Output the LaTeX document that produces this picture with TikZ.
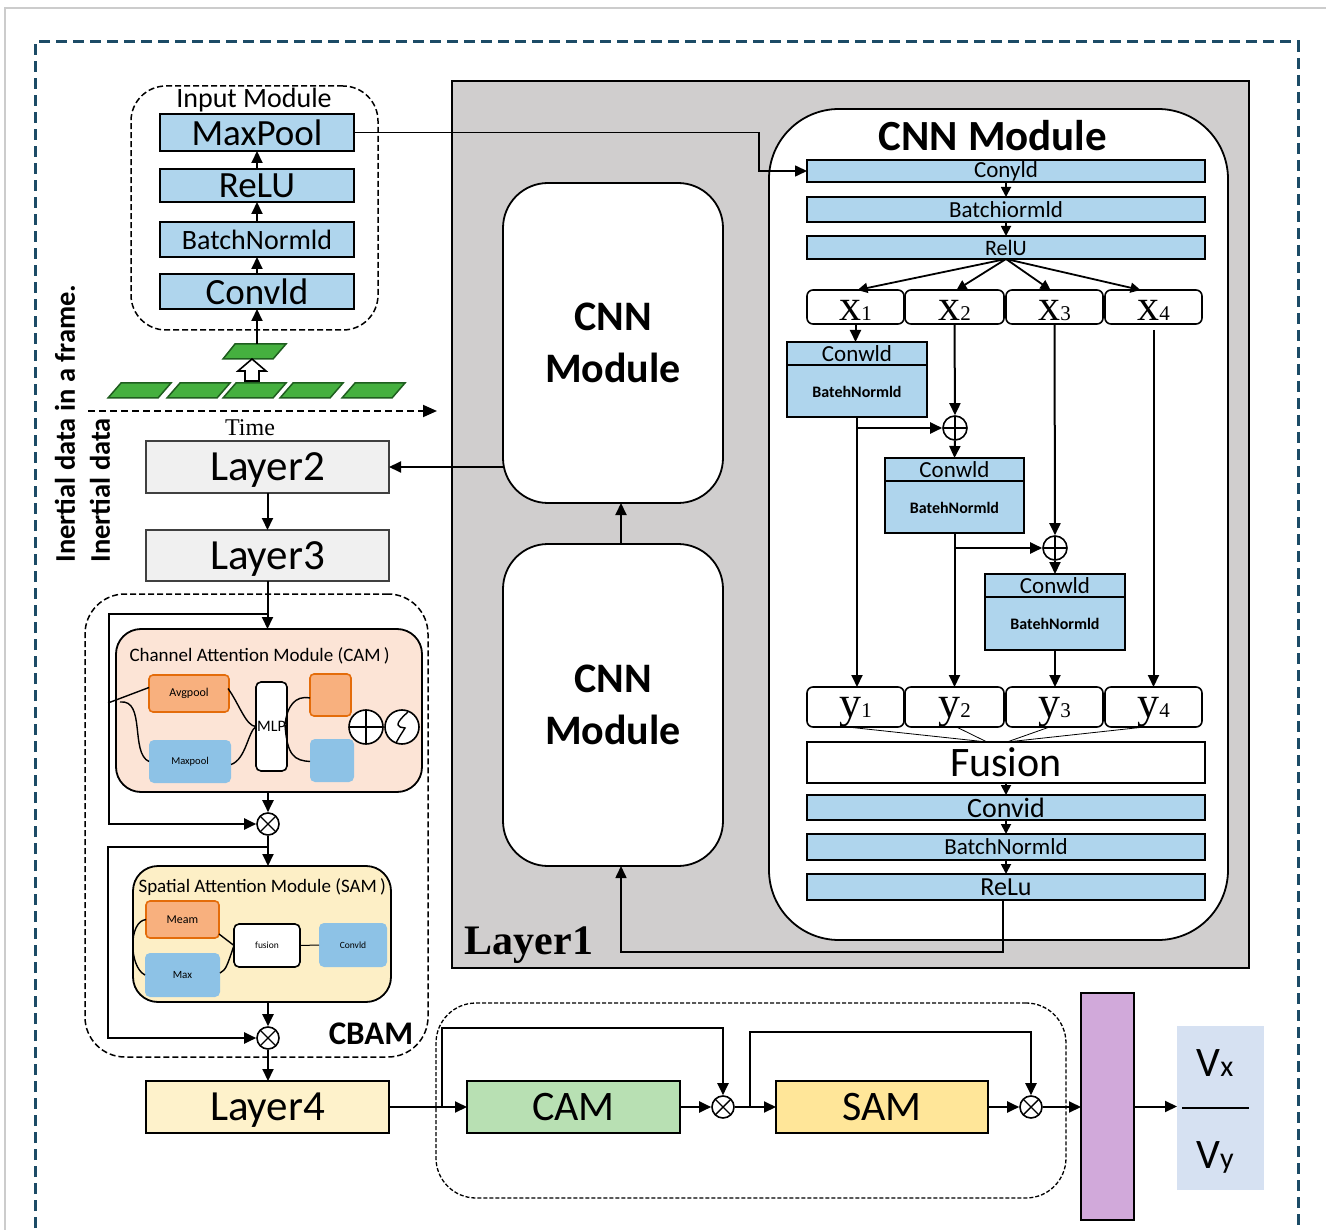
\documentclass[tikz,border=0pt]{standalone}
\usepackage{fontspec}
\setmainfont{Carlito}
\newfontfamily\tms{Liberation Serif}
\usetikzlibrary{arrows.meta,calc}

\definecolor{blueA}{HTML}{AFD5ED}
\definecolor{grayL1}{HTML}{D0CECE}
\definecolor{lgray}{HTML}{F0F0F0}
\definecolor{peach}{HTML}{FCE4D6}
\definecolor{orangeF}{HTML}{F8B07E}
\definecolor{orangeD}{HTML}{E46C0A}
\definecolor{poolblue}{HTML}{8DC2E6}
\definecolor{samyel}{HTML}{FDEFC6}
\definecolor{lfouryel}{HTML}{FEF2CB}
\definecolor{camgreen}{HTML}{B8E0B3}
\definecolor{samgold}{HTML}{FFE699}
\definecolor{purp}{HTML}{D1A9DA}
\definecolor{outblue}{HTML}{D6E1F2}
\definecolor{grn}{HTML}{45B03F}
\definecolor{grnD}{HTML}{1F5E1F}
\definecolor{frameteal}{HTML}{1C4B66}

\newcommand\fsz[1]{\fontsize{#1}{#1}\selectfont}
% box by its corners: name, style, x1, y1, x2, y2, text
\newcommand\mkbox[7]{\node[inner sep=0pt,outer sep=0pt,#2,
  minimum width={(#5-#3)*1pt},minimum height={(#6-#4)*1pt}]
  (#1) at ({(#3+#5)/2},{(#4+#6)/2}) {#7};}
\newcommand\sublab[2]{{\tms\fsz{44}#1\fsz{21}#2}}

\tikzset{
  bluebox/.style={draw,fill=blueA,line width=2pt},
  graybox/.style={draw=black!75,fill=lgray,line width=1.8pt,text depth=0pt},
  whitebox/.style={draw,fill=white,line width=1.8pt},
  smallbox/.style={draw,fill=white,rounded corners=6pt,line width=1.6pt,text depth=0pt},
  cnnsmall/.style={draw,fill=white,rounded corners=45pt,line width=1.8pt,
    align=center,font=\fontsize{42}{52}\selectfont\bfseries},
  dashround/.style={draw,dash pattern=on 6pt off 3pt,line width=1.5pt,rounded corners=40pt},
  orangebox/.style={draw=orangeD,fill=orangeF,rounded corners=4pt,line width=1.6pt},
  bluepool/.style={fill=poolblue,rounded corners=5pt},
  arr/.style={line width=2pt,-{Triangle[length=12pt,width=11pt]}},
  arrs/.style={line width=1.8pt,-{Triangle[length=10pt,width=10pt]}},
  thinl/.style={line width=1.4pt},
  oplus/.style={circle,draw,fill=white,minimum size=#1,inner sep=0pt,line width=1.6pt,
    path picture={\draw[line width=1.4pt]
      (path picture bounding box.north) -- (path picture bounding box.south)
      (path picture bounding box.west) -- (path picture bounding box.east);}},
  oplus/.default=24pt,
  otimes/.style={circle,draw,fill=white,minimum size=#1,inner sep=0pt,line width=1.6pt,
    path picture={\draw[line width=1.4pt]
      (path picture bounding box.north west) -- (path picture bounding box.south east)
      (path picture bounding box.north east) -- (path picture bounding box.south west);}},
  otimes/.default=22pt,
  sigm/.style={circle,draw,fill=white,minimum size=34pt,inner sep=0pt,line width=1.6pt,
    path picture={\draw[line width=1.4pt]
      ($(path picture bounding box.center)+(6,-15)$) .. controls ($(path picture bounding box.center)+(-2,-8)$) and ($(path picture bounding box.center)+(-7,-2)$) .. ($(path picture bounding box.center)+(-2,0)$)
      -- ($(path picture bounding box.center)+(3,1)$) .. controls ($(path picture bounding box.center)+(0,6)$) and ($(path picture bounding box.center)+(-3,10)$) .. ($(path picture bounding box.center)+(-6,16)$);}},
}

\begin{document}
\begin{tikzpicture}[x=1pt,y=-1pt]
\useasboundingbox (0,0) rectangle (1326,1230);

% page edge and outer frame
\draw[black!20,line width=1.5pt] (5,1240) -- (5,8) -- (1330,8);
\draw[frameteal,line width=3pt,dash pattern=on 11pt off 6pt] (35,1245) -- (35,42) -- (1298,42) -- (1298,1245);

% ---------- Layer1 ----------
\mkbox{lay1}{draw,fill=grayL1,line width=1.8pt}{452}{81}{1249}{968}{}
\node[anchor=center] (lay1lab) at (529,945) {\tms\bfseries\fsz{42}Layer1};

\mkbox{cnnA}{cnnsmall}{503}{183}{723}{503}{CNN\\Module}
\mkbox{cnnB}{cnnsmall}{503}{544}{723}{866}{CNN\\Module}
\draw[arr] ($(cnnB.north)+(8,0)$) -- ($(cnnA.south)+(8,0)$);

\mkbox{cnnbig}{draw,fill=white,rounded corners=70pt,line width=1.8pt}{769}{109}{1228}{940}{}
\node (cnnt) at (993,136) {\fsz{43}\bfseries CNN Module};

\mkbox{c1}{bluebox}{807}{160}{1205}{182}{\fsz{23}Conyld}
\mkbox{c2}{bluebox}{807}{197}{1205}{222}{\fsz{23}Batchiormld}
\mkbox{c3}{bluebox}{807}{236}{1205}{259}{\fsz{22}RelU}
\draw[arrs] (c1.south) -- (c2.north);
\draw[arrs] (c2.south) -- (c3.north);

\mkbox{x1}{smallbox,text height=28pt}{807}{290}{904}{324}{\sublab{x}{1}}
\mkbox{x2}{smallbox,text height=28pt}{905}{290}{1004}{324}{\sublab{x}{2}}
\mkbox{x3}{smallbox,text height=28pt}{1006}{290}{1103}{324}{\sublab{x}{3}}
\mkbox{x4}{smallbox,text height=28pt}{1105}{290}{1202}{324}{\sublab{x}{4}}
\draw[arrs] (c3.south) -- ($(x1.north)+(2,0)$);
\draw[arrs] (c3.south) -- ($(x2.north)+(2,0)$);
\draw[arrs] (c3.south) -- ($(x3.north)+(-4,0)$);
\draw[arrs] (c3.south) -- ($(x4.north)+(-13,0)$);

% residual branches
\mkbox{b1}{bluebox}{787}{342}{927}{417}{}
\mkbox{b2}{bluebox}{885}{458}{1024}{533}{}
\mkbox{b3}{bluebox}{985}{574}{1125}{650}{}
\foreach \b in {b1,b2,b3}{
  \draw[line width=1.8pt] ($(\b.north west)+(0,23)$) -- ($(\b.north east)+(0,23)$);
  \node (\b t) at ($(\b.north)+(0,12)$) {\fsz{23}Conwld};
  \node (\b b) at ($(\b.center)+(0,12)$) {\fsz{16}\bfseries BatehNormld};
}
\node[oplus] (p1) at (955,428) {};
\node[oplus] (p2) at (1055,548) {};

\mkbox{y1}{smallbox,text height=20pt}{807}{687}{904}{727}{\sublab{y}{1}}
\mkbox{y2}{smallbox,text height=20pt}{905}{687}{1004}{727}{\sublab{y}{2}}
\mkbox{y3}{smallbox,text height=20pt}{1006}{687}{1103}{727}{\sublab{y}{3}}
\mkbox{y4}{smallbox,text height=20pt}{1105}{687}{1202}{727}{\sublab{y}{4}}

\draw[arr] (x1.south) -- (x1.south |- b1.north);
\draw[arr] (x2.south) -- (p1.north);
\draw[arr] (b1.south) -- (b1.south |- y1.north);
\draw[arr] (b1.south |- p1.west) -- (p1.west);
\draw[arr] (p1.south) -- (b2.north);
\draw[arr] (b2.south) -- (b2.south |- y2.north);
\draw[arr] (b2.south |- p2.west) -- (p2.west);
\draw[arr] (x3.south) -- (p2.north);
\draw[arr] (p2.south) -- (b3.north);
\draw[arr] (b3.south) -- (b3.south |- y3.north);
\draw[arr] ($(x4.south)+(0,6)$) -- (y4.north);

\mkbox{fu}{whitebox}{807}{742}{1205}{783}{\fsz{42}Fusion}
\mkbox{d1}{bluebox}{807}{795}{1205}{820}{\fsz{28}Convid}
\mkbox{d2}{bluebox}{807}{834}{1205}{860}{\fsz{23}BatchNormld}
\mkbox{d3}{bluebox}{807}{874}{1205}{900}{\fsz{26}ReLu}
\draw[line width=0.8pt] ($(y1.south)+(-8,0)$) -- ($(fu.north)+(-19,0)$);
\draw[line width=0.8pt] ($(y2.south)+(2,0)$) -- ($(fu.north)+(-19,0)$);
\draw[line width=0.8pt] ($(y3.south)+(-5,0)$) -- ($(fu.north)+(1,0)$);
\draw[line width=0.8pt] ($(y4.south)+(-9,0)$) -- ($(fu.north)+(1,0)$);
\draw[arrs] (fu.south) -- (d1.north);
\draw[arrs] (d1.south) -- (d2.north);
\draw[arrs] (d2.south) -- (d3.north);
\draw[arr,line width=1.6pt] ($(d3.south)+(-3,0)$) |- ($(cnnB.south)+(8,86)$) -- ($(cnnB.south)+(8,0)$);

% ---------- Input module ----------
\mkbox{inmod}{dashround,rounded corners=35pt}{131}{86}{378}{330}{}
\node (inlab) at (254,100) {\fsz{28}Input Module};
\mkbox{mp}{bluebox}{160}{114}{354}{151}{\fsz{37}MaxPool}
\mkbox{ru}{bluebox}{160}{169}{354}{202}{\fsz{37}ReLU}
\mkbox{bn}{bluebox}{160}{222}{354}{257}{\fsz{28}BatchNormld}
\mkbox{cv}{bluebox}{160}{274}{354}{309}{\fsz{37}Convld}
\draw[arr] (cv.north) -- (bn.south);
\draw[arr] (bn.north) -- (ru.south);
\draw[arr] (ru.north) -- (mp.south);
\draw[arr,line width=1.6pt] (mp.east) -- ++(405,0) |- (c1.west);

% inertial frames along time
\foreach \x in {108,167,223,280,342}
  \draw[fill=grn,draw=grnD,line width=1.5pt] (\x,398) -- (\x+13,383) -- (\x+63,383) -- (\x+50,398) -- cycle;
\draw[fill=grn,draw=grnD,line width=1.5pt] (223,359) -- (235,344) -- (286,344) -- (273,359) -- cycle;
\coordinate (frm) at (257,344);
\draw[arr] (frm) -- (cv.south);
\draw[fill=white,line width=1.6pt] (245,381) -- (245,371) -- (238,371) -- (252,359) -- (266,371) -- (259,371) -- (259,381) -- cycle;
\coordinate (tstart) at (88,411);
\coordinate (tend) at (437,411);
\draw[line width=1.8pt,dash pattern=on 7pt off 4pt,-{Triangle[length=14pt,width=12pt]}] (tstart) -- (tend);
\node (tlab) at (250,428) {\tms\fsz{24}Time};

\node[rotate=90,anchor=west] (lab1) at (65,566) {\fsz{28.5}\bfseries Inertial data in a frame.};
\node[rotate=90,anchor=west] (lab2) at (100,566) {\fsz{28.5}\bfseries Inertial data};

% ---------- Layers 2 and 3 ----------
\mkbox{l2}{graybox}{146}{441}{389}{493}{\fsz{43}Layer2}
\mkbox{l3}{graybox}{146}{530}{389}{581}{\fsz{43}Layer3}
\draw[arr] (cnnA.south west |- l2.east) -- (l2.east);
\draw[arr] (l2.south) -- (l3.north);

% ---------- CBAM ----------
\mkbox{cbam}{dashround}{85}{594}{428}{1057}{}
\node (cbamlab) at (371,1034) {\fsz{33}\bfseries CBAM};

\mkbox{cam}{draw,fill=peach,rounded corners=25pt,line width=1.8pt}{116}{629}{422}{792}{}
\node[anchor=west] (camt) at (126,656) {\fsz{19}Channel Attention Module (CAM\,)};
\mkbox{avg}{orangebox}{149}{675}{229}{712}{\fsz{12}Avgpool}
\mkbox{mxp}{bluepool}{149}{740}{231}{783}{\fsz{10.5}Maxpool}
\mkbox{mlp}{draw,fill=white,rounded corners=5pt,line width=1.6pt}{256}{682}{287}{771}{}
\node (mlpt) at (mlp.center) {\fsz{16}MLP};
\mkbox{oq}{orangebox}{310}{674}{351}{716}{}
\mkbox{bq}{bluepool}{310}{739}{354}{782}{}
\node[oplus=34pt] (cadd) at (366,727) {};
\node[sigm] (csig) at (402,727) {};
\coordinate (ctap) at (108,703);
\draw[thinl] (ctap) -- ($(avg.west)+(0,-6)$);
\draw[thinl] ($(ctap)+(12,-1)$) .. controls ($(ctap)+(38,-4)$) and ($(ctap)+(22,50)$) .. (mxp.west);
\draw[thinl] ($(avg.east)+(-1,-5)$) .. controls ($(avg.east)+(10,10)$) and ($(mlp.west)+(-10,0)$) .. (mlp.west);
\draw[thinl] ($(mxp.east)+(0,3)$) .. controls ($(mxp.east)+(15,-2)$) and ($(mlp.west)+(-8,5)$) .. (mlp.west);
\draw[thinl] ($(mlp.east)+(-2,-2)$) .. controls ($(mlp.east)+(0,-20)$) and ($(oq.west)+(-15,0)$) .. ($(oq.west)+(0,3)$);
\draw[thinl] ($(mlp.east)+(-2,-2)$) .. controls ($(mlp.east)+(0,30)$) and ($(bq.west)+(-15,0)$) .. ($(bq.west)+(0,1)$);

\draw[arr] (l3.south) -- (l3.south |- cam.north);
\node[otimes] (m1) at (268,824) {};
\draw[arr] ($(l3.south)+(0,33)$) -- ++(-159,0) |- (m1.west);
\draw[arr] (m1 |- cam.south) -- (m1.north);

\mkbox{sam}{draw,fill=samyel,rounded corners=25pt,line width=1.8pt}{133}{866}{391}{1002}{}
\node[anchor=west] (samt) at (135,887) {\fsz{19}Spatial Attention Module (SAM\,)};
\mkbox{mea}{orangebox}{146}{901}{219}{938}{\fsz{12}Meam}
\mkbox{maxb}{bluepool}{145}{953}{220}{997}{\fsz{11}Max}
\mkbox{fus}{draw,fill=white,rounded corners=5pt,line width=1.6pt}{234}{924}{300}{967}{\fsz{9.5}fusion}
\mkbox{scv}{bluepool}{319}{923}{387}{967}{\fsz{9.5}Convld}
\draw[line width=1pt] (fus.east) -- (scv.west);
\draw[thinl] ($(mea.south east)+(0,-4)$) .. controls ($(mea.south east)+(8,2)$) .. (fus.west);
\draw[thinl] ($(maxb.east)+(0,-2)$) .. controls ($(maxb.east)+(6,-6)$) .. (fus.west);
\draw[thinl] (mea.west) .. controls ($(mea.west)+(-18,2)$) and ($(maxb.west)+(-16,-8)$) .. (maxb.west);

\draw[arr] (m1.south) -- (m1 |- sam.north);
\node[otimes] (m2) at (268,1038) {};
\draw[arr] ($(m1.south)+(0,11)$) -- ++(-160,0) |- (m2.west);
\draw[arr] (m2 |- sam.south) -- (m2.north);

% ---------- Layer4 and attention head ----------
\mkbox{l4}{draw,fill=lfouryel,line width=1.8pt,text depth=0pt}{146}{1081}{389}{1133}{\fsz{43}Layer4}
\draw[arr] (m2.south) -- (m2 |- l4.north);

\mkbox{bot}{dashround,dash pattern=on 4pt off 2pt,line width=1.3pt}{436}{1003}{1066}{1198}{}
\mkbox{cam2}{draw,fill=camgreen,line width=1.8pt}{467}{1081}{680}{1133}{\fsz{42}CAM}
\node[otimes] (m3) at (723,1107) {};
\mkbox{sam2}{draw,fill=samgold,line width=1.8pt}{776}{1081}{988}{1133}{\fsz{42}SAM}
\node[otimes] (m4) at (1031,1107) {};
\mkbox{pur}{draw,fill=purp,line width=1.8pt}{1081}{993}{1134}{1220}{}
\mkbox{outb}{fill=outblue}{1177}{1026}{1264}{1190}{}
\node (vx) at (1215,1063) {\fsz{42}V\fsz{30}x};
\node (vy) at (1215,1157) {\fsz{42}V\fsz{30}y};
\draw[line width=1.6pt] ($(outb.west)+(5,0)$) -- ($(outb.east)+(-15,0)$);

\draw[arr] (l4.east) -- (cam2.west);
\draw[arr] (cam2.east) -- (m3.west);
\draw[arr] (m3.east) -- (sam2.west);
\draw[arr] (sam2.east) -- (m4.west);
\draw[arr] (m4.east) -- (m4 -| pur.west);
\draw[arr] (pur.east) -- (pur.east -| outb.west);
\draw[arr] ($(l4.east)+(53,0)$) -- ++(0,-79) -| (m3.north);
\draw[arr] ($(m3.east)+(15,0)$) -- ++(0,-75) -| (m4.north);
\end{tikzpicture}
\end{document}
